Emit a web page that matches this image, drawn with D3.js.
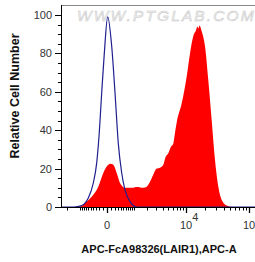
<!DOCTYPE html>
<html>
<head>
<meta charset="utf-8">
<script src="https://cdn.jsdelivr.net/npm/d3@7/dist/d3.min.js"></script>
<style>
  html, body { margin: 0; padding: 0; background: #fff; }
  svg { display: block; font-family: "Liberation Sans", Arial, sans-serif; }
</style>
</head>
<body>
<svg id="chart" width="255" height="262"></svg>
<script>
// ---- data ----
const controlX = [-2600, -1500, -1100, -808, -602, -400, -282, -210, -132, -64, 16, 116, 210, 316, 438, 572, 808, 1197, 2000, 262144];
const controlY = [0, 0, 0.3, 1.5, 4.7, 12.5, 23, 36.7, 59.5, 80, 99, 83.7, 59.5, 33, 17.7, 8.9, 2.8, 0, 0, 0];

const sampleX = [-2600, -1354, -931, -708, -461, -231, -90, 30, 84, 160, 262, 375, 572, 898, 1217, 1683, 1983, 2494, 3105, 3572, 4098, 4500, 5022, 5600, 6126, 6500, 6998, 8490, 10268, 11633, 13170, 14560, 15300, 15856, 16580, 17983, 20313, 22935, 25972, 29300, 33045, 37388, 44770, 56260, 262144];
const sampleY = [0, 0, 0.5, 2.5, 5.4, 10.6, 17.7, 22, 22.5, 22, 17.7, 12.5, 10, 10, 10.4, 10, 10.6, 15, 20, 20.5, 22, 26, 28, 31.5, 33, 38, 44, 54, 68, 80, 89, 92, 94, 93, 94.5, 91.5, 83.7, 66, 45, 24.5, 10.6, 3.7, 0.8, 0, 0];

const yMajorTicks = [0, 20, 40, 60, 80, 100];
const yMinorTicks = [5, 10, 15, 25, 30, 35, 45, 50, 55, 65, 70, 75, 85, 90, 95, 100];
const xMajorTicks = [0, 10000, 100000];
const xTickBase = ["0", "10", "10"];
const xTickExp = ["", "4", "5"];
const xMinorTicks = [-2000, -1000, -900, -800, -700, -600, -500, -400, -300, -200, -100,
  100, 200, 300, 400, 500, 600, 700, 800, 900, 1000, 2000, 3000, 4000, 5000, 6000, 7000, 8000, 9000,
  20000, 30000, 40000, 50000, 60000, 70000, 80000, 90000, 200000];

const xTitle = "APC-FcA98326(LAIR1),APC-A";
const yTitle = "Relative Cell Number";
const watermark = "WWW.PTGLAB.COM";

// ---- layout ----
const pLeft = 61, pTop = 5, pBottom = 207, pRight = 255;
const svg = d3.select("#chart");

const x = d3.scaleSymlog().constant(635).domain([-2642, 262144]).range([61, 275.9]);
const y = d3.scaleLinear().domain([0, 100]).range([207, 15]);

svg.append("defs").append("clipPath").attr("id", "plotclip")
  .append("rect").attr("x", pLeft).attr("y", pTop).attr("width", pRight - pLeft).attr("height", pBottom - pTop);

// watermark
svg.append("text")
  .attr("x", 77).attr("y", 21)
  .attr("font-size", 15.5).attr("font-style", "italic")
  .attr("letter-spacing", 2.1)
  .attr("fill", "#f3f3f3").attr("stroke", "#c6c6c6").attr("stroke-width", 0.5)
  .text(watermark);

const g = svg.append("g").attr("clip-path", "url(#plotclip)");

// sample area (red)
const sample = sampleX.map((v, i) => [v, sampleY[i]]);
g.append("path")
  .datum(sample)
  .attr("fill", "#ff0000")
  .attr("d", d3.area().x(d => x(d[0])).y0(y(0)).y1(d => y(d[1])).curve(d3.curveMonotoneX));

// control line (blue)
const control = controlX.map((v, i) => [v, controlY[i]]);
g.append("path")
  .datum(control)
  .attr("fill", "none")
  .attr("stroke", "#1f1f8f")
  .attr("stroke-width", 1.2)
  .attr("d", d3.line().x(d => x(d[0])).y(d => y(d[1])).curve(d3.curveMonotoneX));

// top frame line
svg.append("line").attr("x1", pLeft).attr("x2", pRight).attr("y1", pTop + 0.5).attr("y2", pTop + 0.5)
  .attr("stroke", "#888").attr("stroke-width", 1);

// y axis
const yAxisG = svg.append("g").attr("transform", `translate(${pLeft},0)`);
yAxisG.append("line").attr("x1", 0.5).attr("x2", 0.5).attr("y1", pTop).attr("y2", pBottom + 1)
  .attr("stroke", "#000").attr("stroke-width", 1);
yAxisG.selectAll(".ymin").data(yMinorTicks).join("line")
  .attr("x1", -3).attr("x2", 0.5).attr("y1", d => Math.round(y(d)) + 0.5).attr("y2", d => Math.round(y(d)) + 0.5)
  .attr("stroke", "#000");
yAxisG.selectAll(".ymaj").data(yMajorTicks).join("line")
  .attr("x1", -6).attr("x2", 0.5).attr("y1", d => Math.round(y(d)) + 0.5).attr("y2", d => Math.round(y(d)) + 0.5)
  .attr("stroke", "#000");
yAxisG.selectAll(".ylab").data(yMajorTicks).join("text")
  .attr("x", -9).attr("y", d => y(d)).attr("dy", "0.36em")
  .attr("text-anchor", "end").attr("font-size", 11).attr("fill", "#333")
  .text(d => d);

// x axis
const xAxisG = svg.append("g").attr("transform", `translate(0,${pBottom})`);
xAxisG.append("line").attr("x1", pLeft).attr("x2", pRight).attr("y1", 0.5).attr("y2", 0.5)
  .attr("stroke", "#000").attr("stroke-width", 1);
xAxisG.selectAll(".xmin").data(xMinorTicks).join("line")
  .attr("x1", d => Math.round(x(d)) + 0.5).attr("x2", d => Math.round(x(d)) + 0.5)
  .attr("y1", 0).attr("y2", 3.5).attr("stroke", "#000");
xAxisG.selectAll(".xmaj").data(xMajorTicks).join("line")
  .attr("x1", d => Math.round(x(d)) + 0.5).attr("x2", d => Math.round(x(d)) + 0.5)
  .attr("y1", 0).attr("y2", 6).attr("stroke", "#000").attr("stroke-width", 1.3);
const xl = xAxisG.selectAll(".xlab").data(xMajorTicks).join("text")
  .attr("y", 22).attr("font-size", 11).attr("fill", "#333");
xl.each(function(d, i) {
  const t = d3.select(this);
  const baseW = xTickBase[i].length * 6.1;
  t.attr("x", x(d) - baseW / 2);
  t.append("tspan").text(xTickBase[i]);
  if (xTickExp[i]) t.append("tspan").attr("dy", -8).attr("font-size", 11).text(xTickExp[i]);
});

// titles
svg.append("text").attr("x", 159).attr("y", 253)
  .attr("text-anchor", "middle").attr("font-size", 11).attr("font-weight", "bold").attr("fill", "#111")
  .text(xTitle);
svg.append("text").attr("transform", "translate(19,96) rotate(-90)")
  .attr("text-anchor", "middle").attr("font-size", 12.5).attr("font-weight", "bold").attr("fill", "#111")
  .text(yTitle);
</script>
</body>
</html>
